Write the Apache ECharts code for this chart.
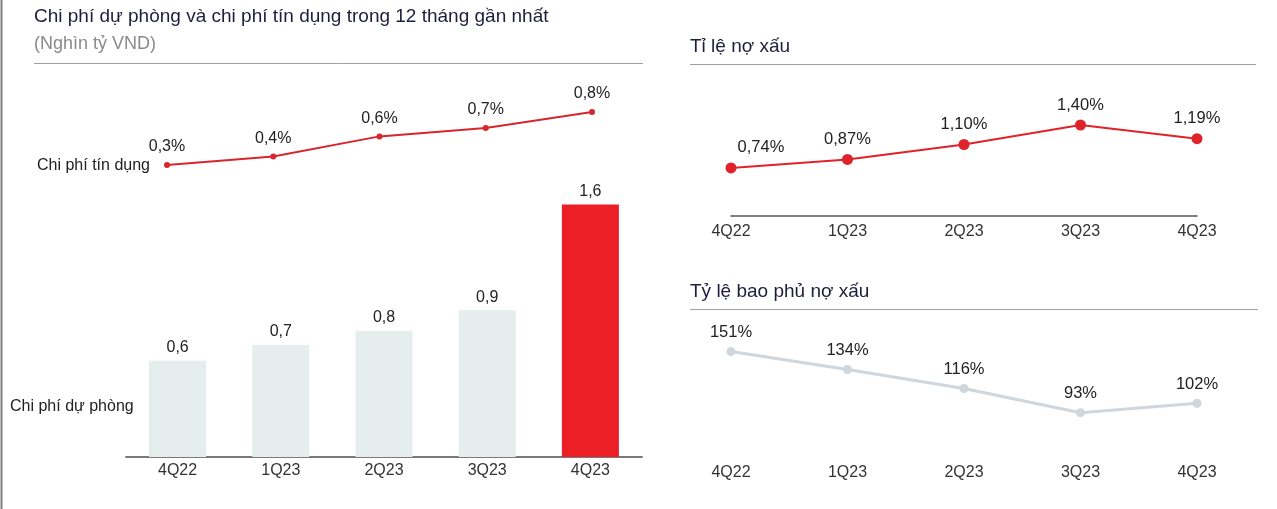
<!DOCTYPE html>
<html>
<head>
<meta charset="utf-8">
<script src="https://cdn.jsdelivr.net/npm/echarts@6/dist/echarts.min.js"></script>
<style>
html,body{margin:0;padding:0;background:#fff;}
#chart{width:1277px;height:509px;}
</style>
</head>
<body>
<div id="chart"></div>
<script>
// ---- data ----
const quarters = ['4Q22', '1Q23', '2Q23', '3Q23', '4Q23'];
const provisionCost = [0.61, 0.71, 0.80, 0.93, 1.60];      // Nghìn tỷ VND
const creditCost = [0.30, 0.38, 0.57, 0.65, 0.80];          // %
const nplRatio = [0.74, 0.87, 1.10, 1.40, 1.19];            // %
const nplCoverage = [151, 134, 116, 93, 102];               // %

const FONT = '"Liberation Sans", Arial, sans-serif';
const fmt1 = v => (Math.round(v * 10) / 10).toFixed(1).replace('.', ',');
const fmt2 = v => v.toFixed(2).replace('.', ',');

const chart = echarts.init(document.getElementById('chart'), null, {renderer: 'canvas'});

const barColors = ['#e5eded', '#e5eded', '#e5eded', '#e5eded', '#ec1f27'];

const option = {
  animation: false,
  textStyle: {fontFamily: FONT},
  grid: [
    {left: 126, top: 173, width: 516, height: 284},   // bars
    {left: 167, top: 90.8, width: 425, height: 106},  // credit cost line
    {left: 731, top: 112, width: 466, height: 104},   // NPL ratio
    {left: 731, top: 321, width: 466, height: 137}    // coverage
  ],
  xAxis: [
    {gridIndex: 0, type: 'category', data: quarters, boundaryGap: true,
     axisLine: {lineStyle: {color: '#7a7a7a', width: 2}}, axisTick: {show: false},
     axisLabel: {color: '#333', fontSize: 16, margin: 6, fontFamily: FONT}},
    {gridIndex: 1, type: 'category', data: quarters, boundaryGap: false, show: false},
    {gridIndex: 2, type: 'category', data: quarters, boundaryGap: false,
     axisLine: {lineStyle: {color: '#555', width: 1.5}}, axisTick: {show: false},
     axisLabel: {color: '#333', fontSize: 16, margin: 8, fontFamily: FONT}},
    {gridIndex: 3, type: 'category', data: quarters, boundaryGap: false,
     axisLine: {show: false}, axisTick: {show: false},
     axisLabel: {color: '#333', fontSize: 16, margin: 7, fontFamily: FONT}}
  ],
  yAxis: [
    {gridIndex: 0, type: 'value', min: 0, max: 1.8, show: false},
    {gridIndex: 1, type: 'value', min: 0, max: 1, show: false},
    {gridIndex: 2, type: 'value', min: 0, max: 1.6, show: false},
    {gridIndex: 3, type: 'value', min: 50, max: 180, show: false}
  ],
  series: [
    {
      name: 'Chi phí dự phòng', type: 'bar', xAxisIndex: 0, yAxisIndex: 0,
      barWidth: 57,
      data: provisionCost.map((v, i) => ({value: v, itemStyle: {color: barColors[i]}})),
      label: {show: true, position: 'top', distance: 5, color: '#222', fontSize: 16,
              fontFamily: FONT, formatter: p => fmt1(p.value)}
    },
    {
      name: 'Chi phí tín dụng', type: 'line', xAxisIndex: 1, yAxisIndex: 1,
      data: creditCost, symbol: 'circle', symbolSize: 6,
      lineStyle: {color: '#d8262e', width: 2}, itemStyle: {color: '#d8262e'},
      label: {show: true, position: 'top', distance: 7, color: '#222', fontSize: 16,
              fontFamily: FONT, formatter: p => fmt1(p.value) + '%'}
    },
    {
      name: 'Tỉ lệ nợ xấu', type: 'line', xAxisIndex: 2, yAxisIndex: 2,
      data: nplRatio.map((v, i) => i === 0 ? {value: v, label: {offset: [30, 0]}} : v),
      symbol: 'circle', symbolSize: 11,
      lineStyle: {color: '#e0222a', width: 2}, itemStyle: {color: '#e0222a'},
      label: {show: true, position: 'top', distance: 6, color: '#222', fontSize: 16.5,
              fontFamily: FONT, formatter: p => fmt2(p.value) + '%'}
    },
    {
      name: 'Tỷ lệ bao phủ nợ xấu', type: 'line', xAxisIndex: 3, yAxisIndex: 3,
      data: nplCoverage, symbol: 'circle', symbolSize: 9,
      lineStyle: {color: '#cfd6dc', width: 3}, itemStyle: {color: '#cfd6dc'},
      label: {show: true, position: 'top', distance: 6, color: '#222', fontSize: 16.5,
              fontFamily: FONT, formatter: p => p.value + '%'}
    }
  ],
  graphic: [
    {type: 'line', shape: {x1: 1.5, y1: 0, x2: 1.5, y2: 509}, style: {stroke: '#7d7d7d', lineWidth: 2}, silent: true},
    {type: 'text', left: 34, top: 7, style: {text: 'Chi phí dự phòng và chi phí tín dụng trong 12 tháng gần nhất',
      fill: '#1d1e3d', font: '19px ' + FONT}},
    {type: 'text', left: 34, top: 35, style: {text: '(Nghìn tỷ VND)', fill: '#8a8a8a', font: '18px ' + FONT}},
    {type: 'line', shape: {x1: 34, y1: 63.5, x2: 643, y2: 63.5}, style: {stroke: '#a0a0a0', lineWidth: 1}, silent: true},
    {type: 'text', left: 690, top: 37, style: {text: 'Tỉ lệ nợ xấu', fill: '#1d1e3d', font: '19px ' + FONT}},
    {type: 'line', shape: {x1: 690, y1: 64.5, x2: 1256, y2: 64.5}, style: {stroke: '#a0a0a0', lineWidth: 1}, silent: true},
    {type: 'text', left: 690, top: 282, style: {text: 'Tỷ lệ bao phủ nợ xấu', fill: '#1d1e3d', font: '19px ' + FONT}},
    {type: 'line', shape: {x1: 690, y1: 309.5, x2: 1258, y2: 309.5}, style: {stroke: '#a0a0a0', lineWidth: 1}, silent: true},
    {type: 'text', left: 37, top: 158, style: {text: 'Chi phí tín dụng', fill: '#222', font: '16px ' + FONT}},
    {type: 'text', left: 10, top: 399, style: {text: 'Chi phí dự phòng', fill: '#222', font: '16px ' + FONT}}
  ]
};
chart.setOption(option);
</script>
</body>
</html>
